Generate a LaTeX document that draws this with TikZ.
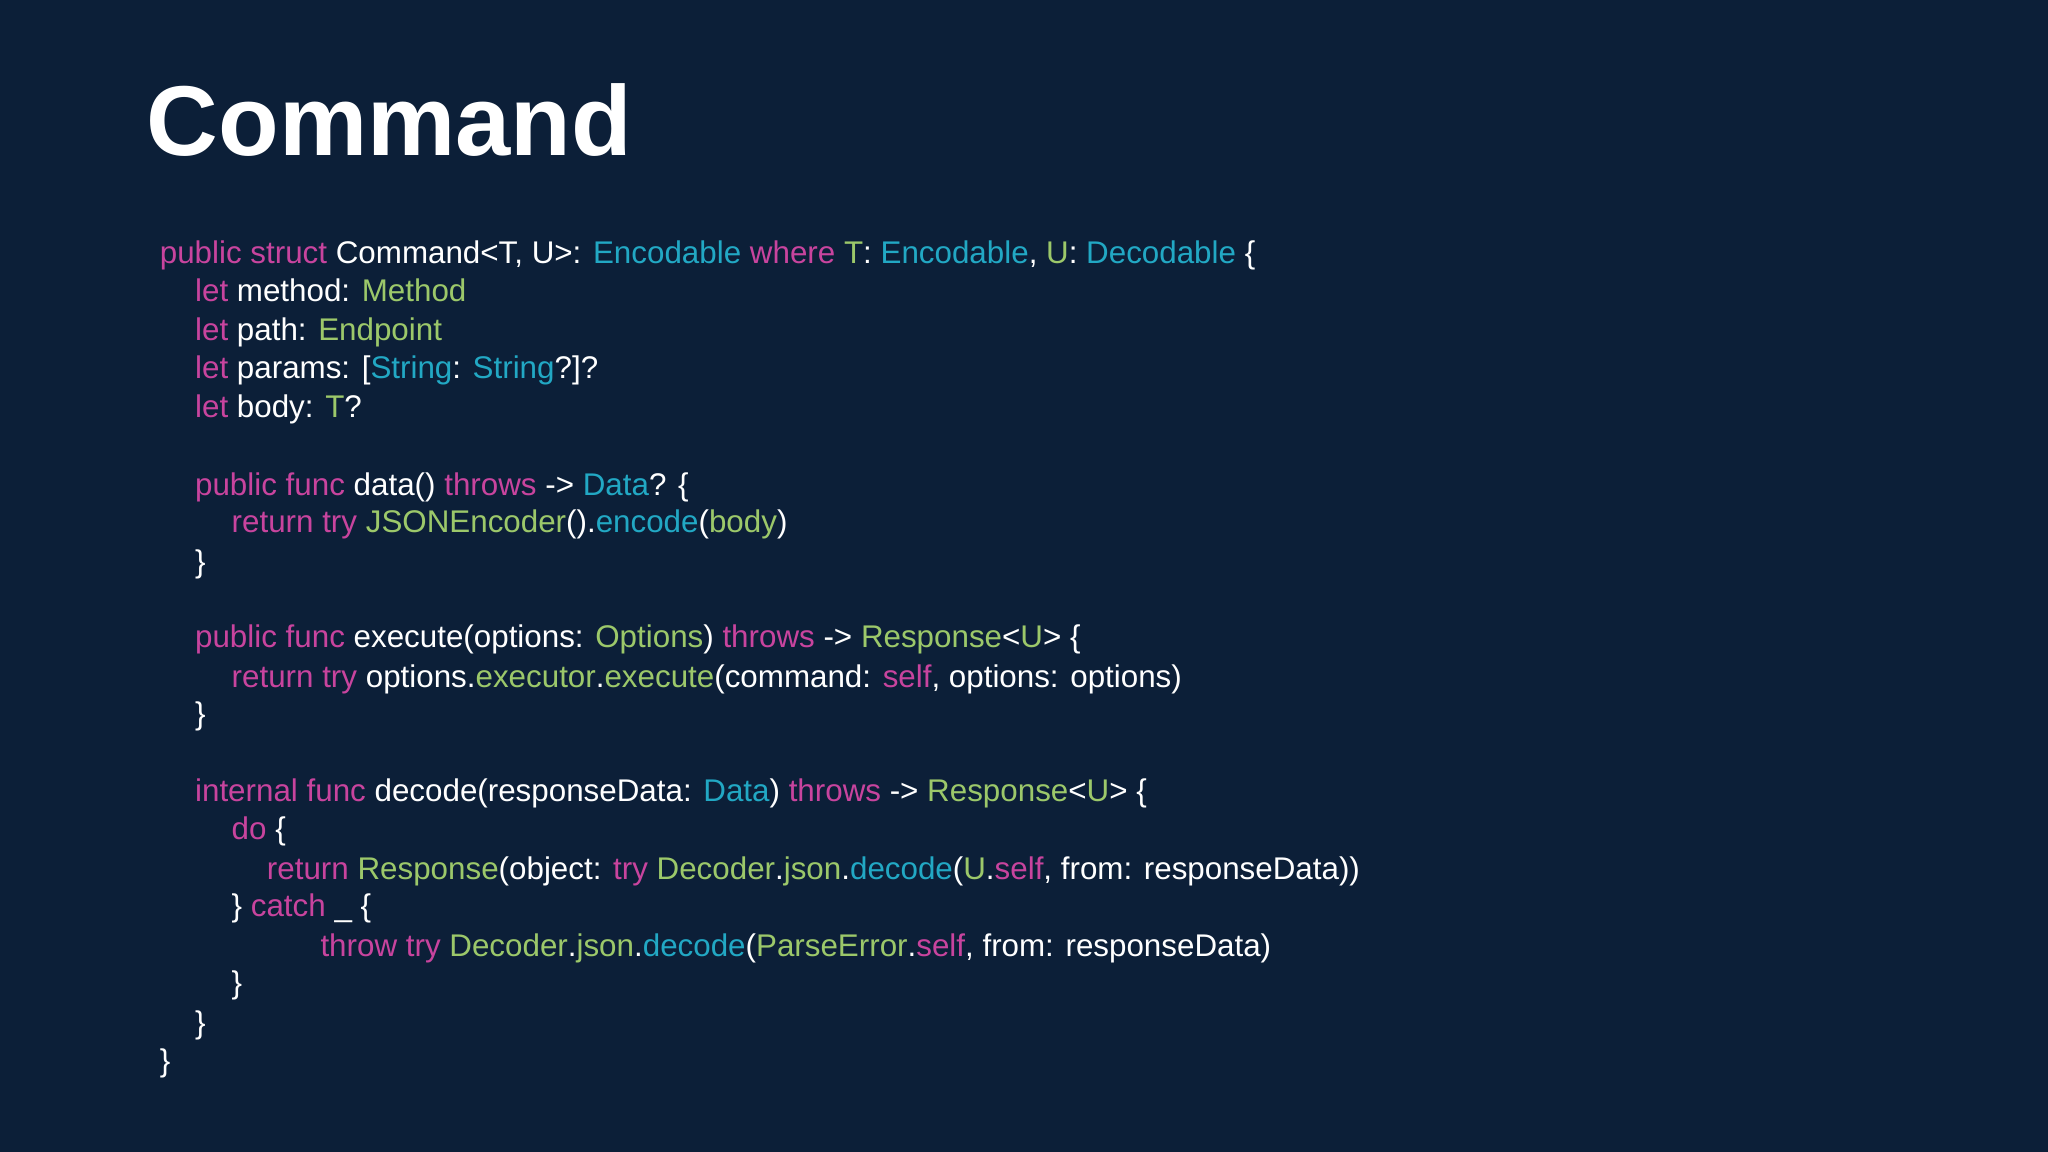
\documentclass[tikz,border=0pt]{standalone}
\usepackage{fontspec}
\setmainfont{Liberation Sans}
\definecolor{bg}{HTML}{0C1F38}
\definecolor{kwc}{HTML}{C8449E}
\definecolor{tyc}{HTML}{22A8C4}
\definecolor{grc}{HTML}{9CC86A}
\newcommand{\kw}[1]{\textcolor{kwc}{#1}}
\newcommand{\ty}[1]{\textcolor{tyc}{#1}}
\newcommand{\gr}[1]{\textcolor{grc}{#1}}
\begin{document}
\begin{tikzpicture}[x=0.5pt,y=-0.5pt,
  code/.style={anchor=base west,inner sep=0pt,text=white,font=\fontsize{12}{14}\selectfont}]
\fill[bg] (0,0) rectangle (1568,882);
\useasboundingbox (0,0) rectangle (1568,882);
\node[anchor=base west,inner sep=0pt,text=white,font=\fontsize{38}{44}\selectfont\bfseries] (title) at (112,119) {Command};
\def\L#1#2#3#4{\node[code] (#1) at (#2,#3+8) {#4};}
\L{l1}{122}{194}{\kw{public struct} Command<T, U>: \ty{Encodable} \kw{where} \gr{T}: \ty{Encodable}, \gr{U}: \ty{Decodable} \{}
\L{l2}{149}{223}{\kw{let} method: \gr{Method}}
\L{l3}{149}{253}{\kw{let} path: \gr{Endpoint}}
\L{l4}{149}{282}{\kw{let} params: [\ty{String}: \ty{String}?]?}
\L{l5}{149}{312}{\kw{let} body: \gr{T}?}
\L{l7}{149}{371}{\kw{public func} data() \kw{throws} -> \ty{Data}? \{}
\L{l8}{177}{400}{\kw{return try} \gr{JSONEncoder}().\ty{encode}(\gr{body})}
\L{l9}{149}{430}{\}}
\L{l11}{149}{488}{\kw{public func} execute(options: \gr{Options}) \kw{throws} -> \gr{Response}<\gr{U}> \{}
\L{l12}{177}{518}{\kw{return try} options.\gr{executor}.\gr{execute}(command: \kw{self}, options: options)}
\L{l13}{149}{547}{\}}
\L{l15}{149}{606}{\kw{internal func} decode(responseData: \ty{Data}) \kw{throws} -> \gr{Response}<\gr{U}> \{}
\L{l16}{177}{635}{\kw{do} \{}
\L{l17}{204}{665}{\kw{return} \gr{Response}(object: \kw{try} \gr{Decoder}.\gr{json}.\ty{decode}(\gr{U}.\kw{self}, from: responseData))}
\L{l18}{177}{694}{\} \kw{catch} \_ \{}
\L{l19}{245}{724}{\kw{throw try} \gr{Decoder}.\gr{json}.\ty{decode}(\gr{ParseError}.\kw{self}, from: responseData)}
\L{l20}{177}{753}{\}}
\L{l21}{149}{783}{\}}
\L{l22}{122}{812}{\}}
\end{tikzpicture}
\end{document}
